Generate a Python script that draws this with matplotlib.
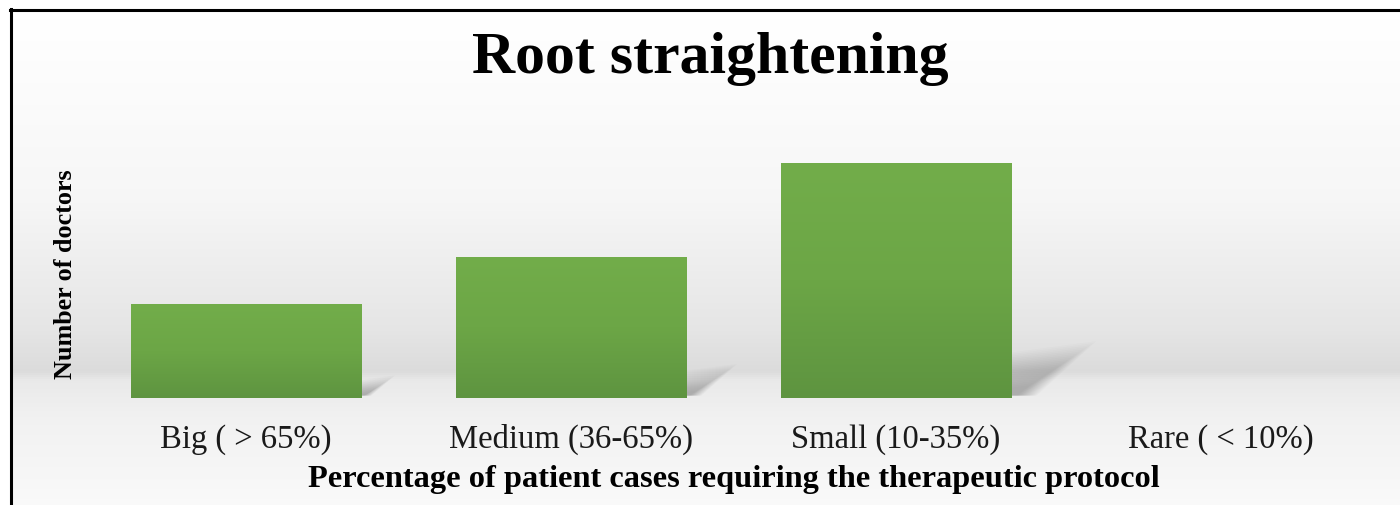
import numpy as np
import matplotlib
matplotlib.use("Agg")
import matplotlib.pyplot as plt
from matplotlib.patches import Polygon, Rectangle
from matplotlib.lines import Line2D
from matplotlib.colors import LinearSegmentedColormap

categories = ["Big ( > 65%)", "Medium (36-65%)", "Small (10-35%)", "Rare ( < 10%)"]
doctors = [2, 3, 5, 0]
title = "Root straightening"
xlabel = "Percentage of patient cases requiring the therapeutic protocol"
ylabel = "Number of doctors"

W, H, DPI = 14.0, 5.06, 100
PW, PH = 1400, 506
fig = plt.figure(figsize=(W, H), dpi=DPI)
fig.patch.set_facecolor("white")

# background gradient drawn as thin horizontal bands (pixel rows from top)
bg = fig.add_axes([0, 0, 1, 1], zorder=0)
bg.set_xlim(0, PW); bg.set_ylim(PH, 0)
bg.set_axis_off()
ys = np.array([0, 10, 200, 330, 372, 382, 420, 506])
vs = np.array([255, 255, 246, 229, 219, 233, 241, 249]) / 255.0
for r in range(10, PH, 2):
    v = np.interp(r + 1, ys, vs)
    bg.add_patch(Rectangle((10, r), PW - 10, 2.05, facecolor=(v, v, v),
                           edgecolor="none", zorder=1))
# border (top & left)
bg.add_line(Line2D([10, PW], [10.5, 10.5], color="black", lw=2.2, zorder=3))
bg.add_line(Line2D([10.5, 10.5], [10, PH], color="black", lw=2.2, zorder=3))

# main axes: x from 83.5 to 1383.5 px, baseline at y=399 px, top at 117
ax = fig.add_axes([83.5 / PW, (PH - 399) / PH, 1300 / PW, (399 - 117) / PH], zorder=1)
ax.patch.set_alpha(0)
x = np.arange(len(categories))
bars = ax.bar(x, doctors, width=0.708, color="none", edgecolor="none", zorder=3)
ax.set_xlim(-0.5, len(categories) - 0.5)
ax.set_ylim(0, 6)

grad = np.linspace(0, 1, 256)[:, None]
cmap = LinearSegmentedColormap.from_list("g", ["#5e9440", "#6ca646", "#72ad4a"])
ppx = 1300 / 4.0
ppy = 282 / 6.0
for b in bars:
    h = b.get_height()
    if h <= 0:
        continue
    x0 = b.get_x(); w = b.get_width()
    im = ax.imshow(grad, cmap=cmap, aspect="auto", origin="lower",
                   extent=[x0, x0 + w, 0, h], zorder=3, interpolation="bilinear")
    im.set_clip_path(b)
    # soft skewed shadow off the lower-right corner
    hp = h * ppy
    xr = x0 + w
    n = 22
    for k in range(n):
        s = 0.25 + 0.85 * k / (n - 1)
        dx = 0.33 * hp * s / ppx
        dy = 0.22 * hp * s / ppy
        poly = Polygon([(xr, 0.05), (xr, dy * 0.8), (xr + dx, dy),
                        (xr + dx * 0.3, 0.05)],
                       closed=True, facecolor="#505050", edgecolor="none",
                       alpha=0.02, zorder=2)
        ax.add_patch(poly)

ax.set_xticks(x)
ax.set_xticklabels(categories, fontsize=23.5, family="Liberation Serif", color="#1a1a1a")
ax.tick_params(axis="x", length=0, pad=18)
ax.set_yticks([])
for sp in ax.spines.values():
    sp.set_visible(False)
ax.set_xlabel(xlabel, fontsize=23.3, family="Liberation Serif", fontweight="bold")
ax.xaxis.label.set_va("center")
ax.xaxis.set_label_coords(0.5 + (734 - 733.5) / 1300, -(480 - 399) / 282)

ax.set_ylabel(ylabel, fontsize=18.8, family="Liberation Serif", fontweight="bold")
ax.yaxis.label.set_va("center")
ax.yaxis.set_label_coords(-(83.5 - 65) / 1300, (399 - 274) / 282)

fig.text(710 / PW, 1 - 73 / PH, title, ha="center", va="baseline",
         fontsize=43, family="Liberation Serif", fontweight="bold")

fig.savefig("out.png", dpi=DPI)
